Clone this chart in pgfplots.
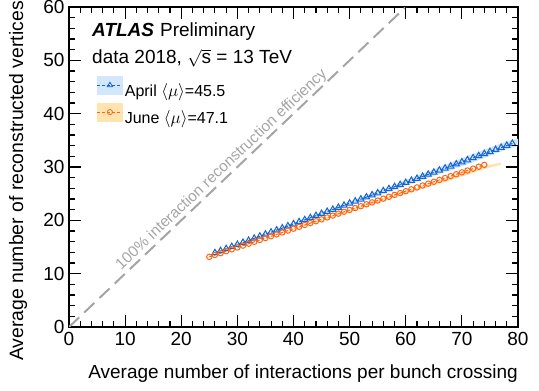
\documentclass[border=0pt]{standalone}
\usepackage{pgfplots}
\pgfplotsset{compat=1.18}
\usepackage{fontspec}
\setmainfont{Liberation Sans}
\definecolor{aprilblue}{RGB}{20,100,210}
\definecolor{bandblue}{RGB}{210,230,252}
\definecolor{juneorange}{RGB}{255,100,20}
\definecolor{bandorange}{RGB}{255,228,175}
\definecolor{diaggray}{RGB}{165,165,165}
\begin{document}
\begin{tikzpicture}
\useasboundingbox (-69pt,-64pt) rectangle (470pt,327pt);
\begin{axis}[
 scale only axis, width=449pt, height=320pt,
 xmin=0,xmax=80,ymin=0,ymax=60,
 xtick={0,10,...,80}, ytick={0,10,...,60},
 tick pos=both,
 minor tick num=4,
 tick align=inside,
 major tick length=12pt, minor tick length=6pt,
 axis line style={line width=1.5pt},
 major tick style={black, line width=1.1pt},
 minor tick style={black, line width=1.1pt},
 tick label style={font=\fontsize{19}{22}\selectfont},
 /pgf/number format/assume math mode=true,
 xticklabel style={yshift=-2pt},
 yticklabel style={xshift=-1pt},
 legend style={draw=none, fill=none, at={(0.062,0.785)}, anchor=north west,
   font=\fontsize{16}{18}\selectfont, row sep=3pt, inner sep=0pt,
   /tikz/every even column/.append style={column sep=5pt}},
 legend cell align=left,
]
% bands
\addplot[fill=bandblue, draw=none, forget plot] coordinates {
(26,14.05) (35,17.6) (45,21.55) (55,25.5) (60,27.55) (65,29.6) (70,31.65) (75,33.65) (78,34.9) (80,35.3)
(80,33.9) (78,33.3) (75,32.1) (70,30.15) (65,28.3) (60,26.5) (55,24.7) (45,20.95) (35,17.15) (26,13.75)} -- cycle;
\addplot[fill=bandorange, draw=none, forget plot] coordinates {
(25,13.2) (40,18.45) (55,23.7) (65,27.1) (70,28.85) (74,30.2) (77,30.85)
(77,30.4) (74,29.6) (70,28.2) (65,26.55) (55,23.3) (40,18.25) (25,13.1)} -- cycle;
% diagonal
\addplot[diaggray, line width=2pt, dash pattern=on 14pt off 7pt, forget plot] coordinates {(0,0) (60,60)};
% April
\addplot[aprilblue, line width=1pt, densely dashed, mark=triangle, mark size=3.6pt,
  mark options={solid}, forget plot] coordinates {
(26,13.90) (27,14.29) (28,14.67) (29,15.06) (30,15.45) (31,15.84) (32,16.22) (33,16.61)
(34,17.00) (35,17.38) (36,17.77) (37,18.16) (38,18.54) (39,18.93) (40,19.32) (41,19.71)
(42,20.09) (43,20.48) (44,20.87) (45,21.25) (46,21.64) (47,22.03) (48,22.41) (49,22.80)
(50,23.19) (51,23.58) (52,23.96) (53,24.35) (54,24.74) (55,25.12) (56,25.51) (57,25.90)
(58,26.28) (59,26.67) (60,27.06) (61,27.45) (62,27.83) (63,28.22) (64,28.61) (65,28.99)
(66,29.38) (67,29.77) (68,30.15) (69,30.54) (70,30.93) (71,31.32) (72,31.70) (73,32.09)
(74,32.48) (75,32.86) (76,33.25) (77,33.64) (78,34.02) (79,34.41)};
% June
\addplot[juneorange, line width=1pt, densely dashed, mark=o, mark size=2.7pt,
  mark options={solid}, forget plot] coordinates {
(25,13.15) (26,13.50) (27,13.85) (28,14.21) (29,14.56) (30,14.91) (31,15.26) (32,15.61)
(33,15.97) (34,16.32) (35,16.67) (36,17.02) (37,17.37) (38,17.73) (39,18.08) (40,18.43)
(41,18.78) (42,19.13) (43,19.49) (44,19.84) (45,20.19) (46,20.54) (47,20.89) (48,21.25)
(49,21.60) (50,21.95) (51,22.30) (52,22.65) (53,23.01) (54,23.36) (55,23.71) (56,24.06)
(57,24.41) (58,24.77) (59,25.12) (60,25.47) (61,25.82) (62,26.17) (63,26.53) (64,26.88)
(65,27.23) (66,27.58) (67,27.93) (68,28.29) (69,28.64) (70,28.99) (71,29.34) (72,29.69)
(73,30.05) (74,30.40)};
\addlegendimage{legend image code/.code={
  \fill[bandblue] (0pt,-3.5pt) rectangle (25pt,14.5pt);
  \draw[aprilblue, densely dashed, line width=0.8pt] (0pt,5.5pt) -- (25pt,5.5pt);
  \draw[aprilblue, line width=0.8pt, fill=bandblue] plot[mark=triangle, mark size=3pt] coordinates {(12.5pt,5.5pt)};}}
\addlegendentry{April $\langle\mu\rangle$=45.5}
\addlegendimage{legend image code/.code={
  \fill[bandorange] (0pt,-3.5pt) rectangle (25pt,14.5pt);
  \draw[juneorange, densely dashed, line width=0.8pt] (0pt,5.5pt) -- (25pt,5.5pt);
  \draw[juneorange, line width=0.8pt, fill=bandorange] plot[mark=o, mark size=2.6pt] coordinates {(12.5pt,5.5pt)};}}
\addlegendentry{June $\langle\mu\rangle$=47.1}
\node[rotate=43.5, text=diaggray, font=\fontsize{15.4}{17}\selectfont, anchor=south, inner sep=1.5pt]
  at (axis cs:28.3,28.3) {100\% interaction reconstruction efficiency};
\end{axis}
% ticks on the top and right frame edges
\foreach \i in {1,...,39}{
  \pgfmathsetmacro\L{mod(\i,5)==0 ? 12 : 6}
  \draw[black, line width=1.1pt] ({\i*11.225pt},320pt) -- ++(0pt,-\L pt);
}
\foreach \i in {1,...,29}{
  \pgfmathsetmacro\L{mod(\i,5)==0 ? 12 : 6}
  \draw[black, line width=1.1pt] (449pt,{\i*10.6667pt}) -- ++(-\L pt,0pt);
}
\node[anchor=west, font=\fontsize{19}{22}\selectfont, inner sep=0pt] at (23pt,295pt)
  {\textbf{\textit{ATLAS}}\hspace{6pt}Preliminary};
\node[anchor=west, font=\fontsize{19}{22}\selectfont, inner sep=0pt] at (23pt,269pt)
  {data 2018, $\sqrt{\mbox{s}}$ = 13 TeV};
\node[anchor=east, font=\fontsize{19}{22}\selectfont, inner sep=0pt] at (449pt,-47pt)
  {Average number of interactions per bunch crossing};
\node[rotate=90, anchor=east, font=\fontsize{19.4}{22}\selectfont, inner sep=0pt] at (-51pt,326pt)
  {Average number of reconstructed vertices};
\end{tikzpicture}
\end{document}
